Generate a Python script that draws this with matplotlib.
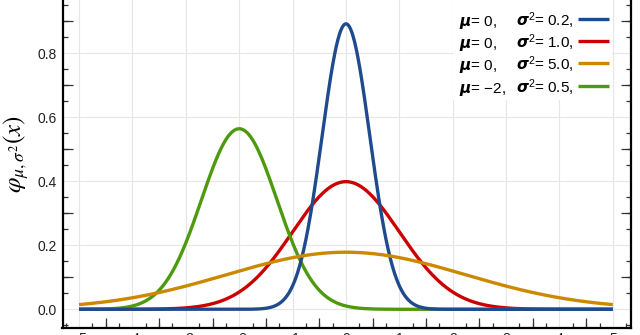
import numpy as np
import matplotlib.pyplot as plt
from matplotlib.ticker import MultipleLocator
from matplotlib.patches import Rectangle

# normal densities: mean and variance of each curve
mus = [0, 0, 0, -2]
variances = [0.2, 1.0, 5.0, 0.5]
mu_labels = ['0', '0', '0', '\u22122']
var_labels = ['0.2', '1.0', '5.0', '0.5']
colors = ['#1f4b8e', '#cc0000', '#cc8800', '#4e9a0e']
draw_order = [1, 3, 0, 2]

x_ticks = list(range(-5, 6))
y_ticks = [0.0, 0.2, 0.4, 0.6, 0.8]
x_half = [k + 0.5 for k in range(-5, 5)]
y_half = [0.1, 0.3, 0.5, 0.7, 0.9]

plt.rcParams['font.family'] = ['Liberation Sans', 'DejaVu Sans']
plt.rcParams['mathtext.fontset'] = 'custom'
plt.rcParams['mathtext.rm'] = 'Liberation Sans'
plt.rcParams['mathtext.it'] = 'Liberation Sans:italic'
plt.rcParams['mathtext.bf'] = 'Liberation Sans:bold'
plt.rcParams['mathtext.bfit'] = 'DejaVu Sans:italic:bold'

fig = plt.figure(figsize=(6.4, 3.35), dpi=100)
ax = fig.add_axes([62.5 / 640, 7.3 / 335, 568 / 640, 338.4 / 335])

x = np.linspace(-5, 5, 1001)
for i in draw_order:
    var = variances[i]
    y = np.exp(-(x - mus[i]) ** 2 / (2 * var)) / np.sqrt(2 * np.pi * var)
    ax.plot(x, y, color=colors[i], lw=2.4, solid_capstyle='butt', zorder=3)

ax.set_xlim(-5.31, 5.33)
ax.set_ylim(-0.0575, 1.0)
ax.set_xticks(x_ticks)
ax.set_yticks(y_ticks)
ax.set_yticklabels(['%.1f' % v for v in y_ticks])
ax.xaxis.set_minor_locator(MultipleLocator(0.25))
ax.yaxis.set_minor_locator(MultipleLocator(0.05))
ax.grid(True, color='#e6e6e6', lw=0.8, zorder=0)
ax.set_axisbelow(True)

ax.tick_params(which='both', direction='in', right=True, color='#333333', width=0.9)
ax.tick_params(which='major', length=0, labelsize=10, labelcolor='#222222')
ax.tick_params(axis='y', which='major', pad=4)
ax.tick_params(axis='x', which='major', pad=3)
ax.tick_params(which='minor', length=3.6)

for side in ['left', 'right', 'bottom']:
    ax.spines[side].set_linewidth(1.6)
    ax.spines[side].set_color('black')
ax.spines['top'].set_visible(False)

# medium-length ticks at the half steps
sec_x = ax.secondary_xaxis('bottom')
sec_x.set_xticks(x_half)
sec_x.tick_params(direction='in', length=7, width=0.9, color='#333333', labelbottom=False)
for sec in [sec_x, ax.secondary_yaxis('left'), ax.secondary_yaxis('right')]:
    for s in sec.spines.values():
        s.set_visible(False)
    if sec is not sec_x:
        sec.set_yticks(y_half)
        sec.tick_params(direction='in', length=7, width=0.9, color='#333333',
                        labelleft=False, labelright=False)

# legend block
ax.add_patch(Rectangle((0.6875, 0.6726), 0.28, 0.33, transform=ax.transAxes,
                       facecolor='white', edgecolor='none', zorder=1))
row_y = 0.912
row_step = 0.0655
for i in range(len(mus)):
    yy = row_y - i * row_step
    ax.text(0.6986, yy - 0.0207, r'$\boldsymbol{\mu}$= ' + mu_labels[i] + ',',
            transform=ax.transAxes, fontsize=11, va='baseline', ha='left', zorder=4)
    ax.text(0.798, yy - 0.0207, r'$\boldsymbol{\sigma}^2$= ' + var_labels[i] + ',',
            transform=ax.transAxes, fontsize=11, va='baseline', ha='left', zorder=4)
    ax.plot([0.907, 0.962], [yy, yy], transform=ax.transAxes, color=colors[i],
            lw=2.4, solid_capstyle='butt', zorder=4)

fig.text(16.5 / 640, 1 - 154 / 335, r'$\varphi_{\mu,\sigma^2}(x)$', rotation=90,
         ha='center', va='center', fontsize=18, math_fontfamily='stix')

fig.savefig('out.png', dpi=100)
